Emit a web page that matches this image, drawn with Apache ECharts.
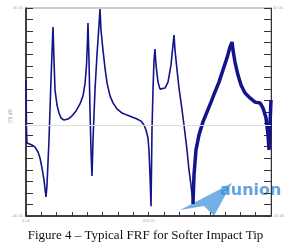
<!DOCTYPE html>
<html><head><meta charset="utf-8">
<script src="https://cdn.jsdelivr.net/npm/echarts@6/dist/echarts.min.js"></script>
<style>html,body{margin:0;padding:0;background:#fff}#c{width:291px;height:252px}</style>
</head><body><div id="c"></div>
<script>
// Frequency (Hz) and FRF magnitude (dB)
const freqClean = [0,1.6,3.3,9.8,19.6,29.4,39.2,45.7,52.2,58.8,65.3,68.6,75.1,81.6,86.5,88.2,91.4,94.7,101.2,107.8,114.3,124.1,137.1,150.2,163.3,176.3,186.1,192.7,197.6,200.8,202.4,205.7,209.0,212.2,215.5,218.8,225.3,231.8,238.4,241.6,244.9,251.4,258.0,264.5,274.3,284.1,297.1,313.5,329.8,346.1,362.4,375.5,385.3,391.8,398.4,401.6,404.9,408.2,409.8,411.4,414.7,418.0,421.2,424.5,431.0,437.6,444.1,453.9,463.7,473.5,480.0,483.3,486.5,493.1,499.6,506.1,515.9,525.7,532.2,538.8,545.3];
const magClean = [12.3,-6.9,-11.9,-12.3,-12.7,-13.5,-15.4,-17.7,-21.5,-26.2,-32.7,-28.1,-10.8,12.3,27.7,32.7,20.0,8.5,2.7,-0.4,-2.3,-3.1,-2.7,-1.5,0.4,3.1,6.2,10.8,18.1,27.7,34.2,20.0,0.8,-14.6,-24.6,-10.8,8.5,21.9,33.5,39.6,31.5,23.8,16.9,11.2,6.2,3.5,1.2,-0.4,-1.2,-1.9,-2.7,-3.5,-5.0,-6.9,-10.0,-14.6,-24.2,-36.2,-22.3,-6.9,8.5,20.0,24.2,18.1,11.5,8.8,8.5,9.2,11.5,18.1,25.8,29.6,23.8,16.2,9.2,3.8,-5.0,-14.6,-22.3,-28.1,-35.4];
const freqNoisy = [545.3,548.6,555.1,564.9,577.9,591.0,604.1,617.1,630.2,643.3,656.3,666.1,672.7,675.9,682.4,692.2,702.0,715.1,731.4,747.8,764.1,773.9,783.7,790.2,793.5,796.7,800];
const magNoisy = [-35.4,-24.2,-14.6,-8.8,-3.8,0.0,3.8,7.7,11.5,16.2,20.8,25.0,26.9,23.8,19.2,14.2,10.4,7.3,5.4,3.8,3.5,1.5,-2.3,-8.8,-14.6,-5.0,4.6];
const refLine = -5;
const yTickLabels = ['40.00','-40.00'];
const xTickLabels = ['0.00','400.00'];
const yName = '|H| dB';
const caption = 'Figure 4 \u2013 Typical FRF for Softer Impact Tip';

const chart = echarts.init(document.getElementById('c'), null, {renderer:'canvas'});
const pair = (xs, ys) => xs.map((x,i)=>[x, ys[i]]);
const lineColor = '#13138a';
const tickStyle = {color:'#333', width:1};
chart.setOption({
  animation:false,
  grid:{left:26, right:20, top:8, bottom:36, outerBoundsMode:'none', containLabel:false, show:true, borderColor:'#999', borderWidth:1},
  xAxis:{type:'value', min:0, max:800, interval:50,
    axisLine:{show:true, onZero:false, lineStyle:{color:'#111', width:1.5}},
    axisTick:{show:true, inside:true, length:4, lineStyle:tickStyle},
    splitLine:{show:false},
    axisLabel:{fontSize:4, color:'#aaa', margin:3, formatter:v=> v===0?xTickLabels[0]:(v===400?xTickLabels[1]:'')}},
  yAxis:[{type:'value', min:-40, max:40, interval:80/18,
    axisLine:{show:true, onZero:false, lineStyle:{color:'#111', width:1.5}},
    axisTick:{show:true, inside:true, length:7, lineStyle:tickStyle},
    splitLine:{show:false},
    axisLabel:{fontSize:4, color:'#aaa', margin:3, formatter:v=> v>39.9?yTickLabels[0]:(v<-39.9?yTickLabels[1]:'')}},
   {type:'value', min:-40, max:40, interval:80/18, position:'right',
    axisLine:{show:true, onZero:false, lineStyle:{color:'#333', width:1}},
    axisTick:{show:true, inside:true, length:7, lineStyle:tickStyle},
    splitLine:{show:false},
    axisLabel:{fontSize:4, color:'#aaa', margin:2, formatter:v=> v>39.9?yTickLabels[0]:(v<-39.9?yTickLabels[1]:'')}}],
  series:[
    {type:'line', data:pair(freqClean, magClean), showSymbol:false, lineStyle:{color:lineColor, width:1.6},
     markLine:{silent:true, symbol:'none', label:{show:false}, lineStyle:{color:'#ddd', type:'solid', width:1}, data:[{yAxis:refLine}]}},
    {type:'line', data:pair(freqNoisy, magNoisy), showSymbol:false, lineStyle:{color:lineColor, width:3.5}}
  ],
  graphic:[
    {type:'text', x:11, y:116, rotation:Math.PI/2, style:{text:yName, font:'5px sans-serif', fill:'#b98', align:'center', verticalAlign:'middle'}},
    {type:'text', left:'center', top:229, style:{text:caption, font:'13px "Liberation Serif", serif', fill:'#111'}},
    {type:'polygon', shape:{points:[[180,210],[232,183],[214,216],[204,206]]}, style:{fill:'rgba(70,150,220,0.75)'}},
    {type:'text', left:220, top:183, style:{text:'aunion', font:'bold 16px "DejaVu Sans", sans-serif', fill:'rgba(60,140,215,0.8)'}}
  ]
});
</script></body></html>
